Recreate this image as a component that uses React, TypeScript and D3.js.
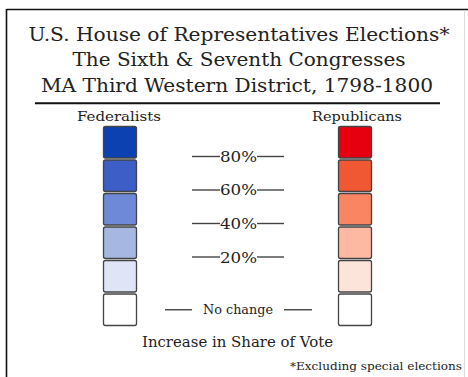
import React from "react";
import * as d3 from "d3";

const titleLines = [
  "U.S. House of Representatives Elections*",
  "The Sixth & Seventh Congresses",
  "MA Third Western District, 1798-1800",
];
const parties = ["Federalists", "Republicans"];
const levels = ["l5", "l4", "l3", "l2", "l1", "l0"];
const fedColors = ["#0b41b0", "#3c5ec6", "#6d89d8", "#a6b7e2", "#dfe5f6", "#ffffff"];
const repColors = ["#e6000f", "#f05733", "#fa8562", "#fdb9a2", "#fde4da", "#ffffff"];
const thresholdLabels = ["80%", "60%", "40%", "20%"];
const noChangeLabel = "No change";
const axisTitle = "Increase in Share of Vote";
const footnote = "*Excluding special elections";

const W = 468;
const H = 377;
const FONT = "'DejaVu Serif', 'Liberation Serif', serif";
const INK = "#222";

export default function App() {
  const y = d3.scaleBand<string>().domain(levels).range([126, 325]).paddingInner(0.06).paddingOuter(0.0);
  const bw = 33;
  const xFed = 103;
  const xRep = 338;
  const boundaries = thresholdLabels.map((_, i) => (y(levels[i])! + y.bandwidth() + y(levels[i + 1])!) / 2 - 2);
  const titleY = [41, 66, 92];
  const titleW = [421, 333, 392];
  const titleX = [239, 239, 237];
  const labelCx = 238.5;
  return (
    <svg width={W} height={H} style={{ position: "absolute", left: 0, top: 0, background: "#fff" }}>
      <line x1={6.5} y1={9.5} x2={W} y2={9.5} stroke="#111" strokeWidth={1.6} />
      <line x1={6.5} y1={9} x2={6.5} y2={H} stroke="#111" strokeWidth={1.6} />
      <line x1={464.5} y1={10} x2={464.5} y2={H} stroke="#ddd" strokeWidth={1} />
      {titleLines.map((t, i) => (
        <text key={t} x={titleX[i]} y={titleY[i]} textAnchor="middle" fontFamily={FONT} fontSize={19}
          fill={INK} textLength={titleW[i]} lengthAdjust="spacingAndGlyphs">{t}</text>
      ))}
      <line x1={35} y1={103.2} x2={440} y2={103.2} stroke="#111" strokeWidth={2} />
      <text x={119} y={121} textAnchor="middle" fontFamily={FONT} fontSize={13.5} fill={INK}
        textLength={84} lengthAdjust="spacingAndGlyphs">{parties[0]}</text>
      <text x={357} y={121} textAnchor="middle" fontFamily={FONT} fontSize={13.5} fill={INK}
        textLength={90} lengthAdjust="spacingAndGlyphs">{parties[1]}</text>
      {levels.map((l, i) => (
        <g key={l}>
          <rect x={xFed + 0.5} y={y(l)! + 0.5} width={bw} height={y.bandwidth()} rx={2} fill={fedColors[i]}
            stroke="#444" strokeWidth={1.3} />
          <rect x={xRep + 0.5} y={y(l)! + 0.5} width={bw} height={y.bandwidth()} rx={2} fill={repColors[i]}
            stroke="#444" strokeWidth={1.3} />
        </g>
      ))}
      {thresholdLabels.map((t, i) => (
        <g key={t}>
          <line x1={192} x2={220} y1={boundaries[i]} y2={boundaries[i]} stroke="#444" strokeWidth={1.4} />
          <line x1={257} x2={284} y1={boundaries[i]} y2={boundaries[i]} stroke="#444" strokeWidth={1.4} />
          <text x={labelCx} y={boundaries[i] + 5.5} textAnchor="middle" fontFamily={FONT} fontSize={14}
            fill={INK} textLength={37} lengthAdjust="spacingAndGlyphs">{t}</text>
        </g>
      ))}
      {(() => {
        const cy = y(levels[5])! + y.bandwidth() / 2 + 0.5;
        return (
          <g>
            <line x1={165} x2={192} y1={cy} y2={cy} stroke="#444" strokeWidth={1.4} />
            <line x1={284} x2={312} y1={cy} y2={cy} stroke="#444" strokeWidth={1.4} />
            <text x={238} y={cy + 4} textAnchor="middle" fontFamily={FONT} fontSize={12}
              fill={INK} textLength={70} lengthAdjust="spacingAndGlyphs">{noChangeLabel}</text>
          </g>
        );
      })()}
      <text x={237.5} y={347} textAnchor="middle" fontFamily={FONT} fontSize={14} fill={INK}
        textLength={191} lengthAdjust="spacingAndGlyphs">{axisTitle}</text>
      <text x={376} y={370} textAnchor="middle" fontFamily={FONT} fontSize={10.5} fill={INK}
        textLength={172} lengthAdjust="spacingAndGlyphs">{footnote}</text>
    </svg>
  );
}
